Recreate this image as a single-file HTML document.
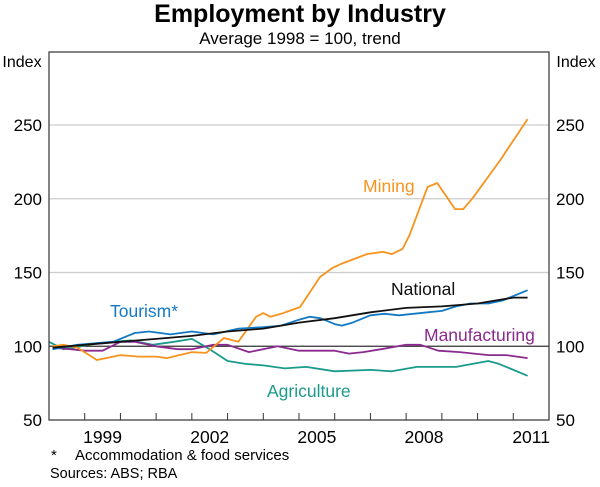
<!DOCTYPE html>
<html><head><meta charset="utf-8"><style>
body{margin:0;background:#fff;font-family:"Liberation Sans",Arial,sans-serif}
</style></head><body>
<svg width="600" height="482" xmlns="http://www.w3.org/2000/svg" font-family="Liberation Sans, Arial, sans-serif">
<text x="300" y="22" text-anchor="middle" font-size="25" font-weight="bold">Employment by Industry</text>
<text x="300" y="44" text-anchor="middle" font-size="17">Average 1998 = 100, trend</text>
<text x="22" y="67" text-anchor="middle" font-size="16">Index</text>
<text x="576" y="67" text-anchor="middle" font-size="16">Index</text>
<g id="grid"></g>
<g id="series"></g>
<rect x="49" y="52" width="500" height="368" fill="none" stroke="#333" stroke-width="1.2"/>
<g id="axes"></g>
<text x="51" y="460" font-size="15">*</text>
<text x="75" y="460" font-size="15">Accommodation &amp; food services</text>
<text x="50" y="478" font-size="14.5">Sources: ABS; RBA</text>
</svg>
<script>
const yTicks=[50,100,150,200,250];
const yearLabels=[1999,2002,2005,2008,2011];
const miningT=[1998.1,1998.4,1998.8,1999.34,2000.0,2000.5,2001.0,2001.3,2002.0,2002.4,2002.9,2003.3,2003.8,2004.0,2004.2,2004.5,2005.03,2005.59,2005.93,2006.2,2006.9,2007.35,2007.6,2007.9,2008.1,2008.6,2008.87,2009.37,2009.6,2009.88,2010.63,2011.4];
const miningV=[100,101,99,90.7,94,93,93,92,96,95.5,105.6,103,120,122.5,120,122,126.6,147,153,156,162.5,164,162.5,166,175.6,208,210.7,193,193,201,226,254];
const nationalT=[1998.1,1999,2000,2001,2002,2003,2004,2005,2006,2007,2008,2009,2010,2011,2011.4];
const nationalV=[99,101,103,105,107,110,112,116,119,123,126,127,129,133,133];
const tourismT=[1998.1,1998.8,1999.8,2000.4,2000.8,2001.4,2002.0,2002.6,2003.3,2004.0,2004.5,2005.0,2005.3,2005.6,2006.0,2006.2,2006.5,2007,2007.4,2007.8,2008.2,2008.6,2009.0,2009.4,2009.8,2010.3,2010.7,2011.4];
const tourismV=[98,101,103,109,110,108,110,108,112,113,114,118,120,119,115,114,116,121,122,121,122,123,124,127,129,129,131,138];
const agriT=[1998.0,1998.4,1998.9,1999.3,1999.8,2000.3,2000.9,2001.5,2002.0,2002.5,2003.0,2003.5,2004,2004.6,2005.2,2006,2007,2007.6,2008.3,2009,2009.4,2010.3,2010.6,2011.4];
const agriV=[103,98,100,102,103,104,101,103,105,98,90,88,87,85,86,83,84,83,86,86,86,90,88,80];
const manuT=[1998.1,1998.6,1999.0,1999.5,2000.0,2000.4,2001,2001.6,2002.0,2002.6,2003.0,2003.6,2004.4,2005,2006,2006.4,2006.8,2007.3,2008.0,2008.4,2008.9,2009.5,2010.3,2010.8,2011.4];
const manuV=[99,98,97,97,103,103,100,98,98,101,101,96,100,97,97,95,96,98,101,101,97,96,94,94,92];
const NS='http://www.w3.org/2000/svg';
const x=t=>49+(t-1998)*35.714;
const y=v=>420-(v-50)*1.475;
function mk(tag,attrs,parent){const e=document.createElementNS(NS,tag);for(const k in attrs)e.setAttribute(k,attrs[k]);parent.appendChild(e);return e;}
const grid=document.getElementById('grid'),axes=document.getElementById('axes'),ser=document.getElementById('series');
yTicks.forEach(v=>{
  if(v>50&&v!==100){const l=mk('line',{x1:49,x2:549,y1:y(v),y2:y(v),stroke:'#ccc','stroke-width':1.2},grid);
  
  }
  const a=mk('text',{x:42,y:y(v)+6,'text-anchor':'end','font-size':17},axes);a.textContent=v;
  
  
  const b=mk('text',{x:556,y:y(v)+6,'font-size':17},axes);b.textContent=v;
  
  
});
const base=mk('line',{x1:49,x2:549,y1:y(100),y2:y(100),stroke:'#333','stroke-width':1.2},grid);


for(let yr=1999;yr<=2011;yr++){const t=mk('line',{x1:x(yr),x2:x(yr),y1:420,y2:413,stroke:'#333','stroke-width':1},axes);

}
yearLabels.forEach(yr=>{const t=mk('text',{x:x(yr+0.5),y:443,'text-anchor':'middle','font-size':17.5},axes);t.textContent=yr;

});
function line(T,V,color,name){const d=T.map((t,i)=>(i?'L':'M')+x(t).toFixed(1)+','+y(V[i]).toFixed(1)).join('');
const p=mk('path',{d:d,fill:'none',stroke:color,'stroke-width':1.8,'stroke-linejoin':'round'},ser);

}
line(agriT,agriV,'#1a9b8c','agriculture-line');
line(manuT,manuV,'#8b2a8e','manufacturing-line');
line(miningT,miningV,'#f7931e','mining-line');
line(tourismT,tourismV,'#1479c4','tourism-line');
line(nationalT,nationalV,'#111','national-line');
function lab(txt,xx,yy,c,name){const t=mk('text',{x:xx,y:yy,'font-size':17.5,fill:c},ser);t.textContent=txt;

}
lab('Mining',363,192,'#f7931e','mining-label');
lab('National',391,295,'#111','national-label');
lab('Tourism*',110,317,'#1479c4','tourism-label');
lab('Manufacturing',424,341,'#8b2a8e','manufacturing-label');
lab('Agriculture',267,397,'#1a9b8c','agriculture-label');
</script>
</body></html>
